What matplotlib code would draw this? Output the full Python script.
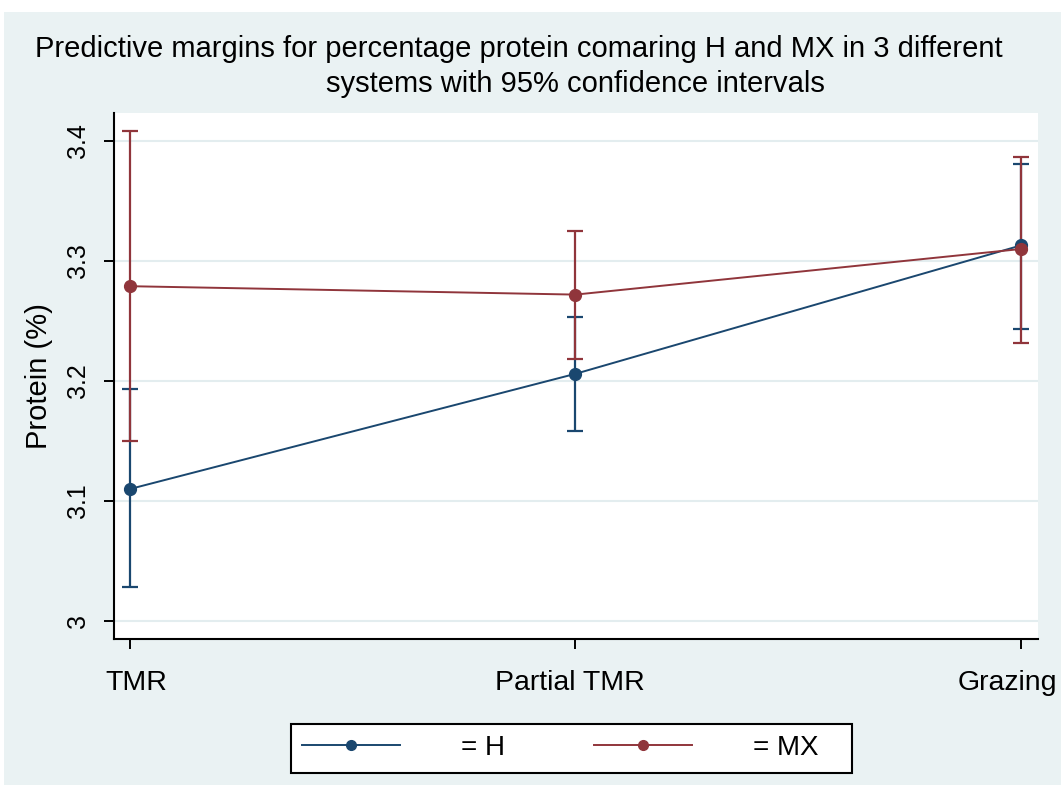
import matplotlib
matplotlib.use('Agg')
import matplotlib.pyplot as plt
from matplotlib.patches import Rectangle
from matplotlib.lines import Line2D
import matplotlib.transforms as mtransforms

# ---- data ----
systems = ['TMR', 'Partial TMR', 'Grazing']
h_margin = [3.110, 3.206, 3.313]
h_lower = [3.028, 3.158, 3.243]
h_upper = [3.193, 3.253, 3.381]
mx_margin = [3.279, 3.272, 3.310]
mx_lower = [3.150, 3.218, 3.232]
mx_upper = [3.408, 3.325, 3.387]
y_ticks = [3.0, 3.1, 3.2, 3.3, 3.4]
y_tick_labels = ['3', '3.1', '3.2', '3.3', '3.4']
series_labels = ['= H', '= MX']
title_line1 = 'Predictive margins for percentage protein comaring H and MX in 3 different'
title_line2 = 'systems with 95% confidence intervals'
y_label = 'Protein (%)'

plt.rcParams['font.family'] = ['Liberation Sans', 'DejaVu Sans']

W, H = 1061, 785
fig = plt.figure(figsize=(W / 100, H / 100), dpi=100, facecolor='white')
bg = '#EAF2F3'
fig.patches.append(Rectangle((4 / W, 0), 1, (H - 12) / H, transform=fig.transFigure,
                             facecolor=bg, edgecolor='none', zorder=-10))

left, right, top, bottom = 114, 1038, 113, 639
ax = fig.add_axes([left / W, (H - bottom) / H, (right - left) / W, (bottom - top) / H])
ax.set_facecolor('white')

navy = '#1A476F'
maroon = '#90353B'
x = list(range(1, len(systems) + 1))


def draw(series, lo, hi, color):
    ax.errorbar(x, series, yerr=[[m - l for m, l in zip(series, lo)],
                                 [u - m for m, u in zip(series, hi)]],
                fmt='none', ecolor=color, elinewidth=1.6, capsize=5.5, capthick=1.6, zorder=3)
    ax.plot(x, series, color=color, lw=1.4, marker='o', ms=8.5, zorder=4)


draw(h_margin, h_lower, h_upper, navy)
draw(mx_margin, mx_lower, mx_upper, maroon)

ax.set_xlim(1 - 16 / 445.5, 3 + 17 / 445.5)
ax.set_ylim(3 - (bottom - 621) / 1200, 3 + (621 - top) / 1200)
ax.set_yticks(y_ticks)
ax.set_yticklabels(y_tick_labels, rotation=90, va='center', fontsize=18)
ax.set_xticks(x)
ax.set_xticklabels(systems, fontsize=20.5)

ax.grid(axis='y', color='#E3EDEF', lw=1.5, zorder=0)
ax.set_axisbelow(True)
for s in ['top', 'right']:
    ax.spines[s].set_visible(False)
for s in ['left', 'bottom']:
    ax.spines[s].set_linewidth(1.5)
    ax.spines[s].set_color('black')
ax.tick_params(axis='y', length=7.5, width=1.4, pad=9.5)
ax.tick_params(axis='x', length=7, width=1.4, pad=15)

for lab, dx in zip(ax.get_xticklabels(), [6.5, -5.5, -14]):
    lab.set_transform(lab.get_transform() + mtransforms.ScaledTranslation(dx / 100, 0, fig.dpi_scale_trans))

ax.set_ylabel(y_label, fontsize=21)
ax.yaxis.label.set_va('center')
ax.yaxis.set_label_coords((39 - left) / (right - left), 0.5)

fig.text(518.5 / W, 1 - 49 / H, title_line1, ha='center', va='center', fontsize=21)
fig.text(575.5 / W, 1 - 84 / H, title_line2, ha='center', va='center', fontsize=21)

# legend box
fig.patches.append(Rectangle((291 / W, 1 - 773 / H), (852 - 291) / W, 49 / H, transform=fig.transFigure,
                             facecolor='white', edgecolor='black', lw=1.5, zorder=1))
handles = [Line2D([], [], color=navy, lw=1.4, marker='o', ms=7),
           Line2D([], [], color=maroon, lw=1.4, marker='o', ms=7)]
leg = fig.legend(handles, series_labels, loc='center left', bbox_to_anchor=(302 / W, 1 - 748 / H),
                 ncol=2, fontsize=20, frameon=False,
                 handlelength=3.53, handletextpad=2.2, columnspacing=3.2, borderpad=0,
                 borderaxespad=0)
leg.set_zorder(2)

fig.savefig('out.png', dpi=100, facecolor=fig.get_facecolor())
